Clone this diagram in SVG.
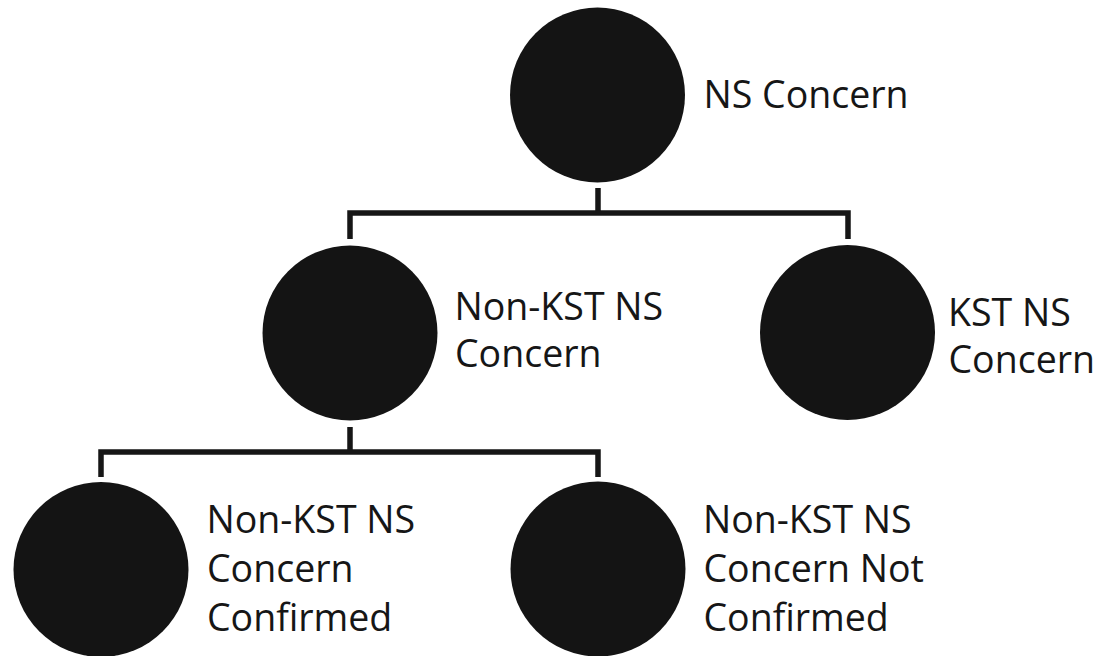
<svg xmlns="http://www.w3.org/2000/svg" width="1106" height="656" viewBox="0 0 1106 656">
<style>
.node circle{fill:#141414}
.lbl{font-family:"Open Sans","Noto Sans","Liberation Sans",sans-serif;font-size:37.5px;fill:#161616}
.conn{fill:none;stroke:#161616;stroke-width:5.5;stroke-linejoin:miter;stroke-linecap:butt}
</style>
<rect width="1106" height="656" fill="#fff"/>
<g id="connectors">
<path class="conn" d="M598 188V213M350 239V213H848V239"/>
<path class="conn" d="M350 427V452M101 477V452H598V477"/>
</g>
<g id="node-ns-concern" class="node">
<circle cx="597.5" cy="95" r="87.5"/>
<text class="lbl" x="703.5" y="107.5">NS Concern</text>
</g>
<g id="node-non-kst" class="node">
<circle cx="350" cy="333" r="87.5"/>
<text class="lbl" x="454.5" y="319.5">Non-KST NS</text>
<text class="lbl" x="455" y="366.5">Concern</text>
</g>
<g id="node-kst" class="node">
<circle cx="847.5" cy="332.5" r="87.5"/>
<text class="lbl" x="948" y="326">KST NS</text>
<text class="lbl" x="948.5" y="373">Concern</text>
</g>
<g id="node-confirmed" class="node">
<circle cx="101" cy="569.5" r="87.5"/>
<text class="lbl" x="206.5" y="533.3">Non-KST NS</text>
<text class="lbl" x="207" y="581.7">Concern</text>
<text class="lbl" x="207" y="630.5">Confirmed</text>
</g>
<g id="node-not-confirmed" class="node">
<circle cx="598" cy="569" r="87.5"/>
<text class="lbl" x="703" y="533.3">Non-KST NS</text>
<text class="lbl" x="703.5" y="581.7">Concern Not</text>
<text class="lbl" x="703.5" y="630.5">Confirmed</text>
</g>
</svg>
